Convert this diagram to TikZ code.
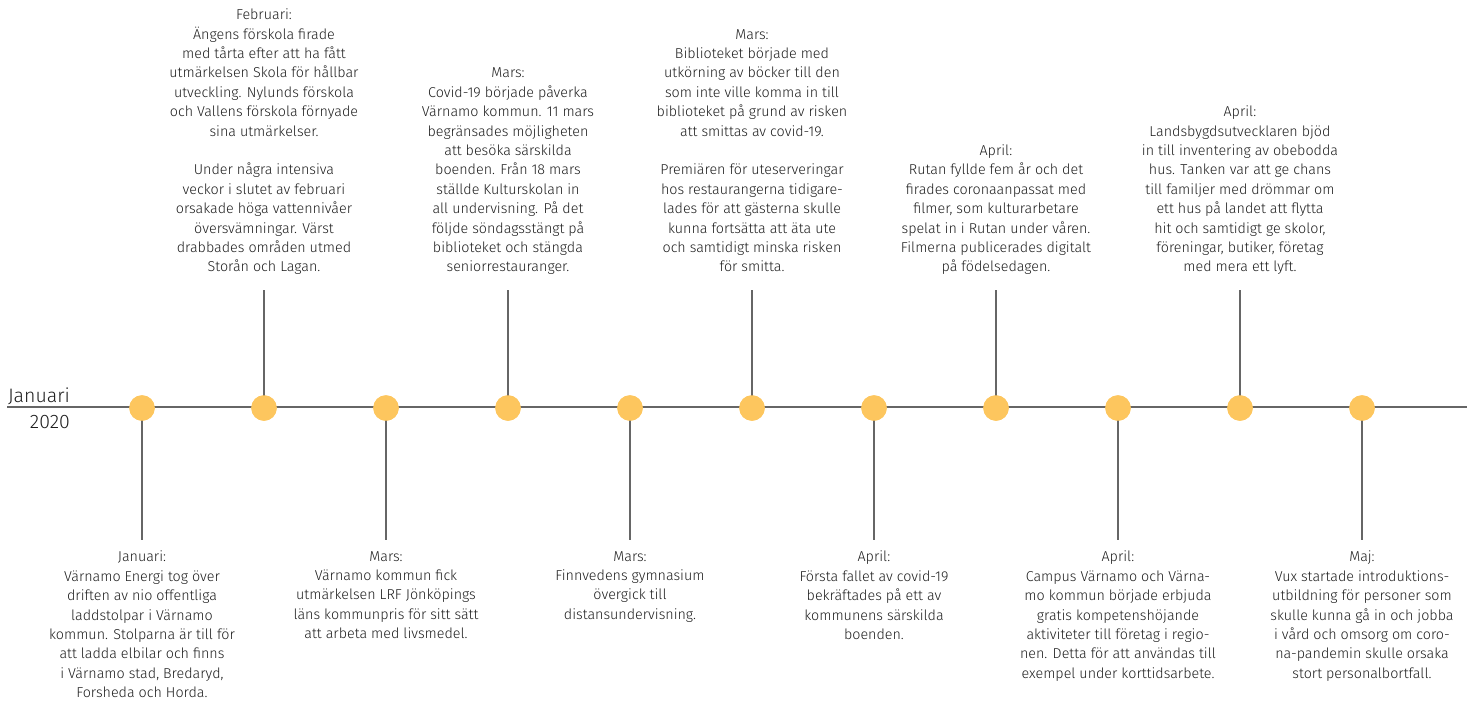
\documentclass[tikz,border=0pt]{standalone}
\usepackage{fontspec}
\setmainfont{Fira Sans Light}
\definecolor{dotc}{HTML}{FDC65E}
\definecolor{linec}{HTML}{666666}
\definecolor{txtc}{HTML}{1E1E1E}
\begin{document}
\begin{tikzpicture}[x=1pt,y=-1pt,
  txt/.style={align=center, font=\fontsize{14.3}{19.4}\selectfont, text=txtc, inner sep=0pt},
  uptxt/.style={txt, anchor=south, text depth=0pt},
  lowtxt/.style={txt, anchor=north},
  dot/.style={circle, fill=dotc, minimum size=25.5pt, inner sep=0pt},
  stem/.style={draw=linec, line width=1.6pt},
  yearlbl/.style={font=\fontsize{19.5}{21}\selectfont, text=txtc, inner sep=0pt, anchor=base east}]
\useasboundingbox (0,0) rectangle (1467,702);
% axis
\coordinate (L) at (7,407);
\coordinate (R) at (1467,407);
\draw[stem] (L) -- (R);
\node[yearlbl] (jan) at (70,402) {Januari};
\node[yearlbl] (yr) at (70,428) {2020};
% dots
\foreach \i/\x in {1/142,2/264,3/386,4/508,5/630,6/752,7/874,8/996,9/1118,10/1240,11/1362}{
  \node[dot] (c\i) at (\x,408) {};
}
% stem end coordinates
\coordinate (s1) at (142,540);
\coordinate (s2) at (264,290);
\coordinate (s3) at (386,540);
\coordinate (s4) at (508,290);
\coordinate (s5) at (630,540);
\coordinate (s6) at (752,290);
\coordinate (s7) at (874,540);
\coordinate (s8) at (996,290);
\coordinate (s9) at (1118,540);
\coordinate (s10) at (1240,290);
\coordinate (s11) at (1362,540);
\foreach \i in {1,...,11}{ \draw[stem] (c\i.center) -- (s\i); }
\foreach \i in {1,...,11}{
  \node[dot] at (c\i) {};
}
% upper texts
\node[uptxt] (t2) at (264,272) {Februari:\\Ängens förskola firade\\med tårta efter att ha fått\\utmärkelsen Skola för hållbar\\utveckling. Nylunds förskola\\och Vallens förskola förnyade\\sina utmärkelser.\\[19.4pt]Under några intensiva\\veckor i slutet av februari\\orsakade höga vattennivåer\\översvämningar. Värst\\drabbades områden utmed\\Storån och Lagan.};
\node[uptxt] (t4) at (508,272) {Mars:\\Covid-19 började påverka\\Värnamo kommun. 11 mars\\begränsades möjligheten\\att besöka särskilda\\boenden. Från 18 mars\\ställde Kulturskolan in\\all undervisning. På det\\följde söndagsstängt på\\biblioteket och stängda\\seniorrestauranger.};
\node[uptxt] (t6) at (752,272) {Mars:\\Biblioteket började med\\utkörning av böcker till den\\som inte ville komma in till\\biblioteket på grund av risken\\att smittas av covid-19.\\[19.4pt]Premiären för uteserveringar\\hos restaurangerna tidigare-\\lades för att gästerna skulle\\kunna fortsätta att äta ute\\och samtidigt minska risken\\för smitta.};
\node[uptxt] (t8) at (996,272) {April:\\Rutan fyllde fem år och det\\firades coronaanpassat med\\filmer, som kulturarbetare\\spelat in i Rutan under våren.\\Filmerna publicerades digitalt\\på födelsedagen.};
\node[uptxt] (t10) at (1240,272) {April:\\Landsbygdsutvecklaren bjöd\\in till inventering av obebodda\\hus. Tanken var att ge chans\\till familjer med drömmar om\\ett hus på landet att flytta\\hit och samtidigt ge skolor,\\föreningar, butiker, företag\\med mera ett lyft.};
% lower texts
\node[lowtxt] (t1) at (142,551) {Januari:\\Värnamo Energi tog över\\driften av nio offentliga\\laddstolpar i Värnamo\\kommun. Stolparna är till för\\att ladda elbilar och finns\\i Värnamo stad, Bredaryd,\\Forsheda och Horda.};
\node[lowtxt] (t3) at (386,551) {Mars:\\Värnamo kommun fick\\utmärkelsen LRF Jönköpings\\läns kommunpris för sitt sätt\\att arbeta med livsmedel.};
\node[lowtxt] (t5) at (630,551) {Mars:\\Finnvedens gymnasium\\övergick till\\distansundervisning.};
\node[lowtxt] (t7) at (874,551) {April:\\Första fallet av covid-19\\bekräftades på ett av\\kommunens särskilda\\boenden.};
\node[lowtxt] (t9) at (1118,551) {April:\\Campus Värnamo och Värna-\\mo kommun började erbjuda\\gratis kompetenshöjande\\aktiviteter till företag i regio-\\nen. Detta för att användas till\\exempel under korttidsarbete.};
\node[lowtxt] (t11) at (1362,551) {Maj:\\Vux startade introduktions-\\utbildning för personer som\\skulle kunna gå in och jobba\\i vård och omsorg om coro-\\na-pandemin skulle orsaka\\stort personalbortfall.};
\end{tikzpicture}
\end{document}
